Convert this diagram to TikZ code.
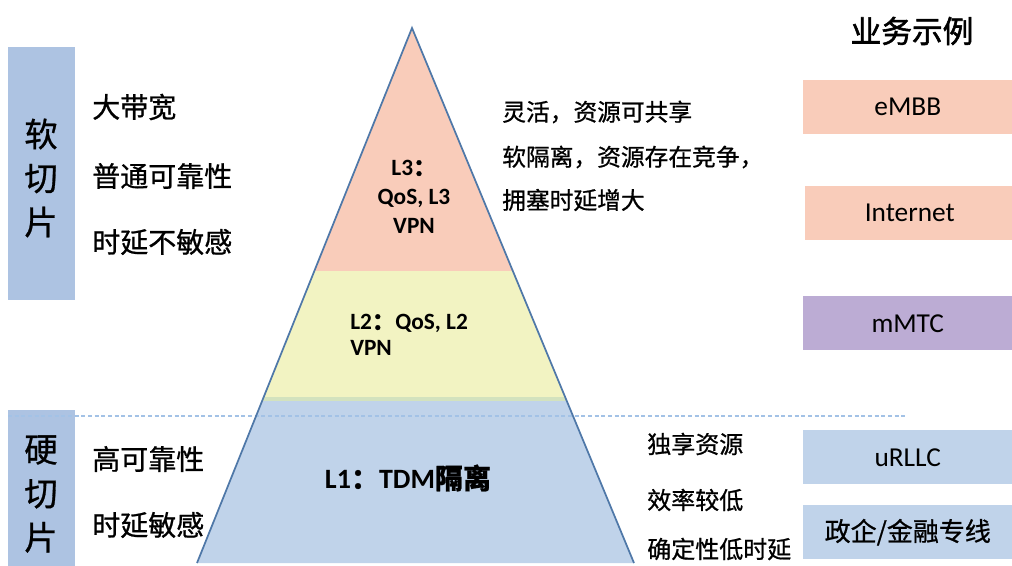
\documentclass[tikz,border=0pt]{standalone}
\usepackage{fontspec}
\setmainfont{Carlito}
\newfontfamily\cjk{Noto Sans CJK SC}[FakeBold=0.8]
\newfontfamily\cjkhead{Noto Sans CJK SC}[FakeBold=1.8]
\definecolor{barblue}{HTML}{ADC3E2}
\definecolor{pinkf}{HTML}{F9CCBA}
\definecolor{yellowf}{HTML}{F2F3C2}
\definecolor{bluef}{HTML}{C0D3EA}
\definecolor{purplef}{HTML}{BCACD4}
\definecolor{greenband}{HTML}{D3E2BE}
\definecolor{edgec}{HTML}{4F78A8}
\definecolor{dashc}{HTML}{A3C2E6}
\begin{document}
\begin{tikzpicture}[x=0.75pt,y=-0.75pt,
  barbox/.style={fill=barblue, draw=none, anchor=north west, inner sep=0, minimum width=50.25pt},
  bartext/.style={font=\cjk\fontsize{25}{33}\selectfont, align=center, inner sep=0},
  lefttext/.style={anchor=west, font=\cjk\fontsize{21}{25}\selectfont, inner sep=0},
  tritext/.style={anchor=west, font=\cjk\fontsize{17.8}{21}\selectfont, inner sep=0},
  lowtext/.style={anchor=west, font=\cjk\fontsize{18}{21}\selectfont, inner sep=0},
  svcbox/.style={anchor=north west, inner sep=0, minimum width=156.75pt, minimum height=40.5pt, draw=none, font=\fontsize{20.5}{24}\selectfont},
  layertext/.style={font=\bfseries\fontsize{17.5}{21.75}\selectfont, inner sep=0}
]
\path[use as bounding box] (0,0) rectangle (1012,566);

% triangle fills
\coordinate (apex) at (412,28);
\coordinate (bl) at (197,563);
\coordinate (br) at (634,563);
\begin{scope}
\clip (apex) -- (bl) -- (br) -- cycle;
\fill[pinkf] (150,20) rectangle (700,271);
\fill[yellowf] (150,271) rectangle (700,400);
\fill[bluef] (150,400) rectangle (700,566);
\fill[greenband] (150,397) rectangle (700,401);
\end{scope}

% left bars
\node[barbox, minimum height=189.75pt] (softbar) at (8,47) {};
\node[barbox, minimum height=117pt] (hardbar) at (8,410) {};
\node[bartext] (softlbl) at (41,178) {软\\切\\片};
\node[bartext] (hardlbl) at (41,494) {硬\\切\\片};

% dashed separator
\coordinate (dashL) at (8,416);
\coordinate (dashR) at (905,416);
\draw[dashc, line width=0.9pt, dash pattern=on 3pt off 2pt] (dashL) -- (dashR);

% triangle outline
\draw[edgec, line width=1.3pt, line join=miter] (bl) -- (apex) -- (br);

% left texts
\node[lefttext] (t1) at (92,107) {大带宽};
\node[lefttext] (t2) at (92,176) {普通可靠性};
\node[lefttext] (t3) at (92,242) {时延不敏感};
\node[lefttext] (t4) at (92,459) {高可靠性};
\node[lefttext] (t5) at (92,525) {时延敏感};

% layer labels
\node[layertext, align=center] (l3) at (414,197) {L3{\cjk ：}\\QoS, L3\\VPN};
\node[layertext, align=left, anchor=west, font=\bfseries\fontsize{17.5}{19.5}\selectfont] (l2) at (350,335) {L2{\cjk ：}QoS, L2\\VPN};
\node[layertext, font=\bfseries\fontsize{21}{25}\selectfont] (l1) at (408,478) {L1{\cjk ：}TDM{\cjk 隔离}};

% right triangle texts
\node[tritext] (r1) at (502,112) {灵活，资源可共享};
\node[tritext] (r2) at (502,157) {软隔离，资源存在竞争，};
\node[tritext] (r3) at (502,200) {拥塞时延增大};
\node[lowtext] (r4) at (647,444) {独享资源};
\node[lowtext] (r5) at (647,500) {效率较低};
\node[lowtext] (r6) at (647,549) {确定性低时延};

% header
\node[font=\cjkhead\fontsize{23}{27}\selectfont, inner sep=0] (hdr) at (912,31) {业务示例};

% service boxes
\node[svcbox, fill=pinkf] (embb) at (803,80) {eMBB};
\node[svcbox, fill=pinkf] (inet) at (805,186) {Internet};
\node[svcbox, fill=purplef] (mmtc) at (803,296) {mMTC};
\node[svcbox, fill=bluef] (urllc) at (803,430) {uRLLC};
\node[svcbox, fill=bluef, font=\cjk\fontsize{19.5}{23}\selectfont] (gov) at (803,505) {政企/金融专线};
\end{tikzpicture}
\end{document}
